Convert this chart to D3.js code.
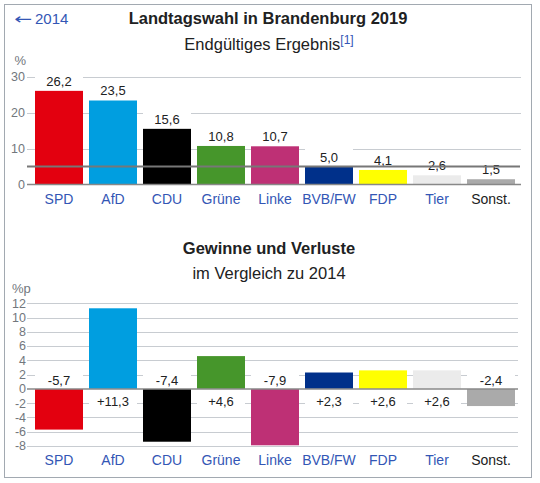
<!DOCTYPE html>
<html><head><meta charset="utf-8">
<script src="https://cdn.jsdelivr.net/npm/d3@7"></script>
<style>
html,body{margin:0;padding:0;background:#fff;}
svg{display:block;font-family:"Liberation Sans",Arial,sans-serif;}
</style></head>
<body>
<svg id="chart" width="540" height="483"></svg>
<script>
const categories = ["SPD","AfD","CDU","Grüne","Linke","BVB/FW","FDP","Tier","Sonst."];
const results2019 = [26.2,23.5,15.6,10.8,10.7,5.0,4.1,2.6,1.5];
const changes = [-5.7,11.3,-7.4,4.6,-7.9,2.3,2.6,2.6,-2.4];
const partyColors = ["#e3000f","#009ee0","#000000","#46962b","#be3075","#00308a","#ffff00","#ebebeb","#aaaaaa"];
const isLink = [true,true,true,true,true,true,true,true,false];
const resultTicks = [0,10,20,30];
const changeTicks = [-8,-6,-4,-2,0,2,4,6,8,10,12];
const threshold = 5;

const svg = d3.select("#chart");
const linkColor = "#3356b5";
const tickColor = "#72777d";

svg.append("rect").attr("x",4.5).attr("y",4.5).attr("width",527).attr("height",473)
  .attr("fill","none").attr("stroke","#a2a9b1");

const x = d3.scaleBand().domain(categories).range([32,518]).paddingInner(6/54).paddingOuter(3/54);
const fmt = v => d3.format(".1f")(Math.abs(v)).replace(".", ",");

// ---------- Top chart ----------
const back = svg.append("text").attr("x",14).attr("y",24).attr("font-size",15).attr("fill",linkColor);
back.append("tspan").attr("font-family","DejaVu Sans").attr("textLength",18).attr("lengthAdjust","spacingAndGlyphs").text("←");
back.append("tspan").attr("dx",3).text("2014");
svg.append("text").attr("x",268).attr("y",24).attr("text-anchor","middle").attr("font-size",16.5)
  .attr("font-weight","bold").attr("fill","#202122").text("Landtagswahl in Brandenburg 2019");
const sub = svg.append("text").attr("x",269).attr("y",50).attr("text-anchor","middle").attr("font-size",16.5).attr("fill","#202122");
sub.append("tspan").text("Endgültiges Ergebnis");
sub.append("tspan").attr("font-size",12).attr("dy",-6).attr("fill",linkColor).text("[1]");

const y1 = d3.scaleLinear().domain([0,30]).range([184.5,77]);
svg.append("text").attr("x",26).attr("y",65).attr("text-anchor","end").attr("font-size",13).attr("fill",tickColor).text("%");

const g1 = svg.append("g");
g1.selectAll("line.grid").data(resultTicks.filter(t=>t!==0)).join("line")
  .attr("x1",27).attr("x2",521).attr("y1",d=>Math.round(y1(d))+0.5).attr("y2",d=>Math.round(y1(d))+0.5)
  .attr("stroke","#c8ccd1");
g1.selectAll("text.tick").data(resultTicks).join("text")
  .attr("x",25).attr("y",d=>y1(d)).attr("dy","0.35em").attr("text-anchor","end")
  .attr("font-size",12.5).attr("fill",tickColor).text(d=>d);
g1.selectAll("rect.bar").data(results2019).join("rect")
  .attr("x",(d,i)=>x(categories[i])).attr("width",x.bandwidth())
  .attr("y",d=>y1(d)).attr("height",d=>y1(0)-y1(d)).attr("fill",(d,i)=>partyColors[i]);
g1.selectAll("rect.lbl").data(results2019).join("rect")
  .attr("x",(d,i)=>x(categories[i])).attr("width",x.bandwidth())
  .attr("y",d=>y1(d)-18).attr("height",18).attr("fill","#fff");
g1.selectAll("text.val").data(results2019).join("text")
  .attr("x",(d,i)=>x(categories[i])+x.bandwidth()/2).attr("y",d=>y1(d)-5)
  .attr("text-anchor","middle").attr("font-size",13).attr("fill","#202122").text(d=>fmt(d));
g1.append("line").attr("x1",27).attr("x2",521).attr("y1",184.5).attr("y2",184.5).attr("stroke","#888").attr("stroke-width",1.5);
g1.append("line").attr("x1",27).attr("x2",520).attr("y1",y1(threshold)).attr("y2",y1(threshold))
  .attr("stroke","#777").attr("stroke-width",2);
g1.selectAll("text.cat").data(categories).join("text")
  .attr("x",d=>x(d)+x.bandwidth()/2).attr("y",204).attr("text-anchor","middle")
  .attr("font-size",14).attr("fill",(d,i)=>isLink[i]?linkColor:"#202122").text(d=>d);

// ---------- Bottom chart ----------
svg.append("text").attr("x",269).attr("y",254).attr("text-anchor","middle").attr("font-size",16.5)
  .attr("font-weight","bold").attr("fill","#202122").text("Gewinne und Verluste");
svg.append("text").attr("x",269).attr("y",279).attr("text-anchor","middle").attr("font-size",16.5)
  .attr("fill","#202122").text("im Vergleich zu 2014");

const y2 = d3.scaleLinear().domain([-8,12]).range([446,303.3]);
svg.append("text").attr("x",12).attr("y",293).attr("font-size",13).attr("fill",tickColor).text("%p");

const g2 = svg.append("g");
g2.selectAll("line.grid").data(changeTicks.filter(t=>t!==0)).join("line")
  .attr("x1",27).attr("x2",518).attr("y1",d=>Math.round(y2(d))+0.5).attr("y2",d=>Math.round(y2(d))+0.5)
  .attr("stroke","#c8ccd1");
g2.selectAll("text.tick").data(changeTicks).join("text")
  .attr("x",26).attr("y",d=>y2(d)).attr("dy","0.35em").attr("text-anchor","end")
  .attr("font-size",12.5).attr("fill",tickColor).text(d=>d);
g2.selectAll("rect.bar").data(changes).join("rect")
  .attr("x",(d,i)=>x(categories[i])).attr("width",x.bandwidth())
  .attr("y",d=>y2(Math.max(0,d))).attr("height",d=>Math.abs(y2(d)-y2(0))).attr("fill",(d,i)=>partyColors[i]);
g2.selectAll("rect.lbl").data(changes).join("rect")
  .attr("x",(d,i)=>x(categories[i])).attr("width",x.bandwidth())
  .attr("y",d=>d<0?y2(0)-17:y2(0)).attr("height",17).attr("fill","#fff");
g2.selectAll("text.val").data(changes).join("text")
  .attr("x",(d,i)=>x(categories[i])+x.bandwidth()/2).attr("y",d=>d<0?y2(0)-4:y2(0)+17)
  .attr("text-anchor","middle").attr("font-size",13).attr("fill","#202122")
  .text(d=>(d<0?"-":"+")+fmt(d));
g2.append("line").attr("x1",27).attr("x2",518).attr("y1",y2(0)).attr("y2",y2(0)).attr("stroke","#888").attr("stroke-width",1.5);
g2.selectAll("text.cat").data(categories).join("text")
  .attr("x",d=>x(d)+x.bandwidth()/2).attr("y",465).attr("text-anchor","middle")
  .attr("font-size",14).attr("fill",(d,i)=>isLink[i]?linkColor:"#202122").text(d=>d);
</script>
</body></html>
